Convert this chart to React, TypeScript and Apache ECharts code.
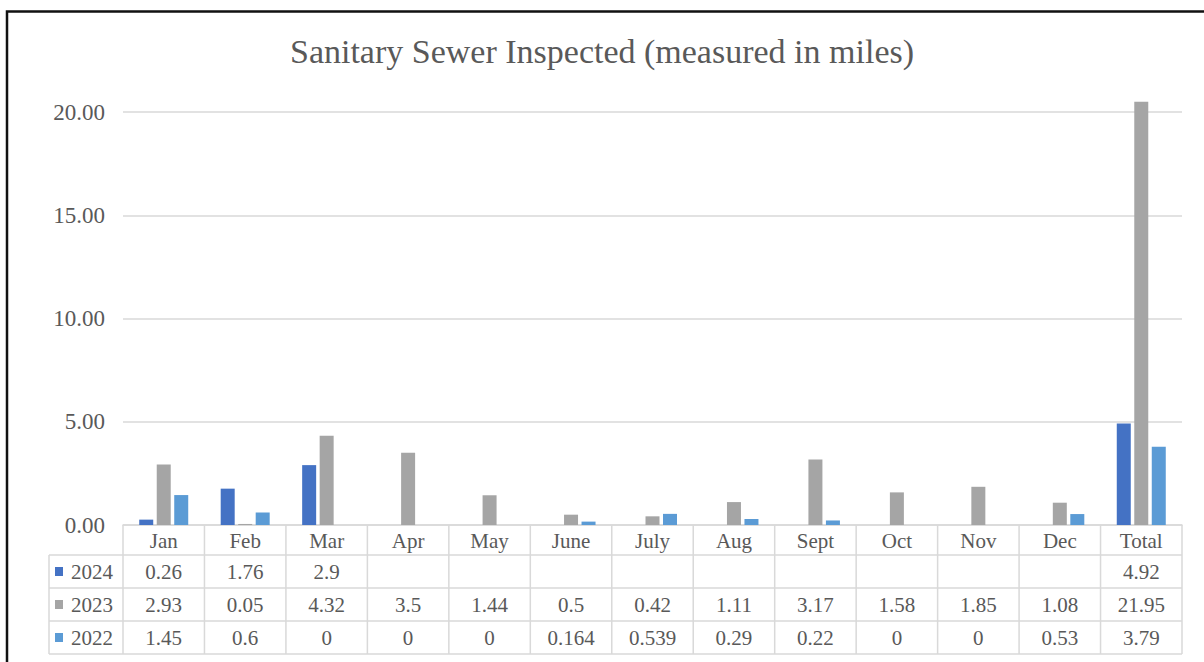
import React, { useEffect, useRef } from 'react';
import * as echarts from 'echarts';

const categories = ['Jan', 'Feb', 'Mar', 'Apr', 'May', 'June', 'July', 'Aug', 'Sept', 'Oct', 'Nov', 'Dec', 'Total'];
const seriesNames = ['2024', '2023', '2022'];
const values2024: (number | null)[] = [0.26, 1.76, 2.9, null, null, null, null, null, null, null, null, null, 4.92];
const values2023: (number | null)[] = [2.93, 0.05, 4.32, 3.5, 1.44, 0.5, 0.42, 1.11, 3.17, 1.58, 1.85, 1.08, 21.95];
const values2022: (number | null)[] = [1.45, 0.6, 0, 0, 0, 0.164, 0.539, 0.29, 0.22, 0, 0, 0.53, 3.79];
const seriesColors = ['#4472C4', '#A5A5A5', '#5B9BD5'];
const yMin = 0;
const yMax = 20.5;
const yInterval = 5;
const titleText = 'Sanitary Sewer Inspected (measured in miles)';

export default function App() {
  const ref = useRef<HTMLDivElement>(null);
  useEffect(() => {
    const chart = echarts.init(ref.current!, null, { renderer: 'svg' });
    const font = "'Liberation Serif', 'Times New Roman', serif";
    const textColor = '#595959';
    const lineColor = '#d9d9d9';
    const axisY = 525;
    const headerH = 30;
    const rowH = 33;
    const tableLeft = 49;
    const allValues = [values2024, values2023, values2022];

    chart.setOption({
      animation: false,
      title: {
        text: titleText,
        left: 'center',
        top: 34,
        padding: 0,
        textStyle: { fontFamily: font, fontSize: 34, fontWeight: 'normal', color: textColor },
      },
      grid: { left: 123, right: 22, top: 101.7, bottom: 662 - axisY },
      xAxis: {
        type: 'category',
        data: categories,
        axisLine: { show: true, lineStyle: { color: lineColor, width: 1.5 } },
        axisTick: { show: false },
        axisLabel: { interval: 0, margin: 5, fontFamily: font, fontSize: 21, color: textColor },
      },
      yAxis: {
        type: 'value',
        min: yMin,
        max: yMax,
        interval: yInterval,
        axisLine: { show: false },
        axisTick: { show: false },
        axisLabel: {
          showMaxLabel: false,
          margin: 18,
          fontFamily: font,
          fontSize: 23,
          color: textColor,
          formatter: (v: number) => (v % yInterval === 0 ? v.toFixed(2) : ''),
        },
        splitLine: { show: true, showMaxLine: false, lineStyle: { color: lineColor, width: 1.5 } },
      },
      series: seriesNames.map((name, i) => ({
        name,
        type: 'bar',
        data: allValues[i],
        barWidth: 14,
        barGap: '25%',
        itemStyle: { color: seriesColors[i] },
      })),
    });

    const centers = categories.map((c) => chart.convertToPixel({ xAxisIndex: 0 }, c) as number);
    const band = centers[1] - centers[0];
    const bounds = [centers[0] - band / 2, ...centers.map((c) => c + band / 2)];
    const right = bounds[bounds.length - 1];
    const bottom = axisY + headerH + rowH * 3;
    const graphic: any[] = [];
    graphic.push({
      type: 'rect',
      shape: { x: 7, y: 11.5, width: 1220, height: 680 },
      style: { fill: 'none', stroke: '#111', lineWidth: 2.5 },
      silent: true,
    });
    for (let r = 0; r <= 3; r++) {
      const y = axisY + headerH + rowH * r;
      graphic.push({ type: 'line', shape: { x1: tableLeft, y1: y, x2: right, y2: y }, style: { stroke: lineColor, lineWidth: 1.5 } });
    }
    graphic.push({ type: 'line', shape: { x1: tableLeft, y1: axisY + headerH, x2: tableLeft, y2: bottom }, style: { stroke: lineColor, lineWidth: 1.5 } });
    bounds.forEach((x) => {
      graphic.push({ type: 'line', shape: { x1: x, y1: axisY, x2: x, y2: bottom }, style: { stroke: lineColor, lineWidth: 1.5 } });
    });
    seriesNames.forEach((name, r) => {
      const cy = axisY + headerH + rowH * r + rowH / 2;
      graphic.push({ type: 'rect', shape: { x: 55, y: cy - 4.5, width: 8, height: 9 }, style: { fill: seriesColors[r] } });
      graphic.push({
        type: 'text',
        x: 71,
        y: cy,
        style: { text: name, fontFamily: font, fontSize: 21, fill: textColor, align: 'left', verticalAlign: 'middle' },
      });
      allValues[r].forEach((v, i) => {
        if (v === null) return;
        graphic.push({
          type: 'text',
          x: centers[i],
          y: cy,
          style: { text: String(v), fontFamily: font, fontSize: 21, fill: textColor, align: 'center', verticalAlign: 'middle' },
        });
      });
    });
    chart.setOption({ graphic });

    return () => chart.dispose();
  }, []);
  return <div ref={ref} style={{ position: 'absolute', left: 0, top: 0, width: 1204, height: 662 }} />;
}
